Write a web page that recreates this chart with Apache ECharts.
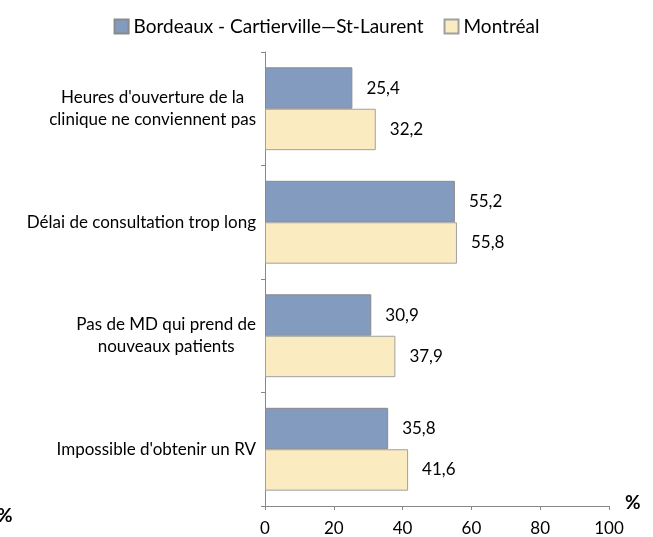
<!DOCTYPE html>
<html>
<head>
<meta charset="utf-8">
<script src="https://cdn.jsdelivr.net/npm/echarts@6/dist/echarts.min.js"></script>
<style>
  html, body { margin: 0; padding: 0; background: #fff; }
  #chart { width: 653px; height: 537px; }
</style>
</head>
<body>
<div id="chart"></div>
<script>
// categories, top to bottom
const categories = [
  "Heures d'ouverture de la\nclinique ne conviennent pas",
  "Délai de consultation trop long",
  "Pas de MD qui prend de\nnouveaux patients",
  "Impossible d'obtenir un RV"
];
const seriesNames = ['Bordeaux - Cartierville\u2014St-Laurent', 'Montréal'];
const bordeaux = [25.4, 55.2, 30.9, 35.8];
const montreal = [32.2, 55.8, 37.9, 41.6];
const xTicks = [0, 20, 40, 60, 80, 100];

const font = 'Lato, "Open Sans", sans-serif';
const chart = echarts.init(document.getElementById('chart'));

const labelStyle = {
  show: true,
  position: 'right',
  distance: 14,
  fontFamily: font,
  fontSize: 17,
  color: '#000',
  formatter: p => p.value.toFixed(1).replace('.', ',')
};

chart.setOption({
  animation: false,
  textStyle: { fontFamily: font },
  legend: {
    top: 12,
    left: 'center',
    itemWidth: 14,
    itemHeight: 14,
    itemGap: 20,
    icon: 'rect',
    textStyle: { fontFamily: font, fontSize: 19, color: '#000' },
    data: seriesNames
  },
  grid: { left: 265, right: 44, top: 52, bottom: 29 },
  xAxis: {
    type: 'value',
    min: xTicks[0],
    max: xTicks[xTicks.length - 1],
    interval: 20,
    splitLine: { show: false },
    axisLine: { show: true, lineStyle: { color: '#888' } },
    axisTick: { show: true, length: 4, lineStyle: { color: '#888' } },
    axisLabel: { fontFamily: font, fontSize: 17, color: '#000', margin: 14 }
  },
  yAxis: {
    type: 'category',
    inverse: true,
    data: categories,
    axisLine: { show: true, lineStyle: { color: '#888' } },
    axisTick: { show: true, length: 4, lineStyle: { color: '#888' } },
    axisLabel: {
      margin: 9,
      align: 'right',
      formatter: v => v.split('\n').map(l => '{c|' + l + '}').join('\n'),
      rich: { c: { align: 'center', fontFamily: font, fontSize: 17, lineHeight: 22, color: '#000' } }
    }
  },
  series: [
    {
      name: seriesNames[0],
      type: 'bar',
      data: bordeaux,
      barGap: '0%',
      barCategoryGap: '27%',
      itemStyle: { color: '#839BBE', borderColor: '#8a8a8a', borderWidth: 1 },
      label: labelStyle
    },
    {
      name: seriesNames[1],
      type: 'bar',
      data: montreal,
      barGap: '0%',
      barCategoryGap: '27%',
      itemStyle: { color: '#FBEBC1', borderColor: '#a0a0a0', borderWidth: 1 },
      label: labelStyle
    }
  ],
  graphic: [
    { type: 'text', left: 625, top: 493, style: { text: '%', fontFamily: font, fontWeight: 'bold', fontSize: 19, fill: '#000' } },
    { type: 'text', left: -3, top: 506, style: { text: '%', fontFamily: font, fontWeight: 'bold', fontSize: 19, fill: '#000' } }
  ]
});
</script>
</body>
</html>
